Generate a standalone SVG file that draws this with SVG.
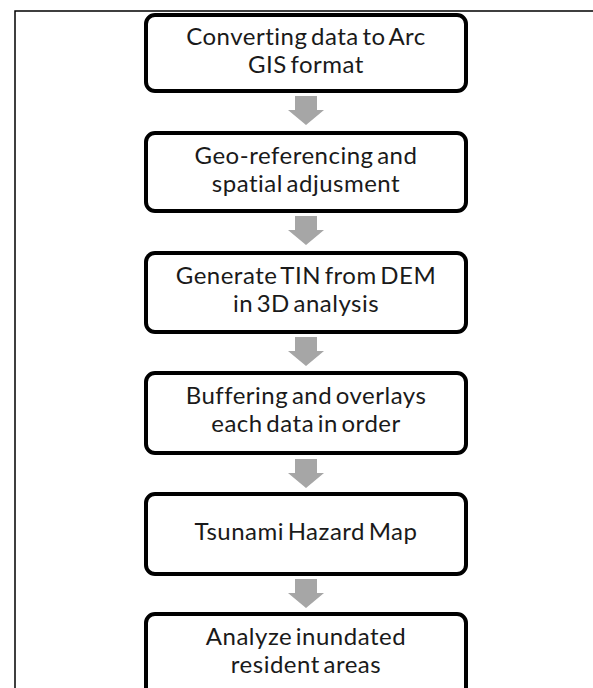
<svg xmlns="http://www.w3.org/2000/svg" width="593" height="688" viewBox="0 0 593 688">
  <style>
    .box { fill: #ffffff; stroke: #000000; stroke-width: 4; }
    .lbl { font-family: Lato, "Open Sans", "Liberation Sans", sans-serif; font-size: 24px; letter-spacing: 0.5px; fill: #1a1a1a; text-anchor: middle; word-spacing: -3px; }
    .arr { fill: #a6a6a6; }
    .frame { fill: none; stroke: #000000; stroke-width: 1.5; }
  </style>
  <rect width="593" height="688" fill="#ffffff"/>
  <path class="frame" d="M15,688 V11 H593"/>
  <g id="connectors">
    <polygon class="arr" points="295,96 317,96 317,110 324,110 306,125 288,110 295,110"/>
    <polygon class="arr" points="295,216 317,216 317,230 324,230 306,245 288,230 295,230"/>
    <polygon class="arr" points="295,337 317,337 317,351 324,351 306,366 288,351 295,351"/>
    <polygon class="arr" points="295,459 317,459 317,473 324,473 306,488 288,473 295,473"/>
    <polygon class="arr" points="295,579 317,579 317,593 324,593 306,608 288,593 295,593"/>
  </g>
  <g id="n1">
    <rect class="box" x="146" y="15" width="320" height="76" rx="9"/>
    <text class="lbl" x="306" y="45">Converting data to Arc</text>
    <text class="lbl" x="306" y="73">GIS format</text>
  </g>
  <g id="n2">
    <rect class="box" x="146" y="133" width="320" height="78" rx="9"/>
    <text class="lbl" x="306" y="164">Geo-referencing and</text>
    <text class="lbl" x="306" y="192">spatial adjusment</text>
  </g>
  <g id="n3">
    <rect class="box" x="146" y="253" width="320" height="79" rx="9"/>
    <text class="lbl" x="306" y="284">Generate TIN from DEM</text>
    <text class="lbl" x="306" y="312">in 3D analysis</text>
  </g>
  <g id="n4">
    <rect class="box" x="146" y="373" width="320" height="80" rx="9"/>
    <text class="lbl" x="306" y="404">Buffering and overlays</text>
    <text class="lbl" x="306" y="432">each data in order</text>
  </g>
  <g id="n5">
    <rect class="box" x="146" y="494" width="320" height="80" rx="9"/>
    <text class="lbl" x="306" y="540">Tsunami Hazard Map</text>
  </g>
  <g id="n6">
    <rect class="box" x="146" y="614" width="320" height="90" rx="9"/>
    <text class="lbl" x="306" y="645">Analyze inundated</text>
    <text class="lbl" x="306" y="673">resident areas</text>
  </g>
</svg>
